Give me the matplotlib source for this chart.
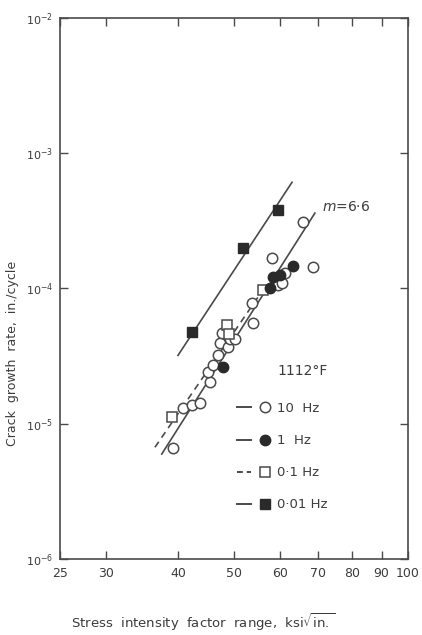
import matplotlib
matplotlib.use('Agg')
import matplotlib.pyplot as plt
from matplotlib.lines import Line2D
from matplotlib.legend_handler import HandlerTuple
from matplotlib.ticker import NullLocator

# Data (delta K in ksi sqrt(in.), da/dN in in./cycle)
dk_10hz = [39.2, 40.8, 42.3, 43.7, 45.5, 45.1, 46.0, 46.9, 47.3, 47.7, 48.8, 49.2,
           50.2, 53.9, 53.7, 58.2, 59.6, 60.5, 61.3, 65.8, 68.5]
rate_10hz = [6.6e-6, 1.31e-5, 1.38e-5, 1.42e-5, 2.05e-5, 2.41e-5, 2.72e-5, 3.2e-5,
             3.95e-5, 4.7e-5, 3.7e-5, 4.2e-5, 4.2e-5, 5.6e-5, 7.8e-5, 1.68e-4,
             1.06e-4, 1.1e-4, 1.3e-4, 3.1e-4, 1.44e-4]

dk_1hz = [47.9, 57.8, 58.5, 60.0, 63.2]
rate_1hz = [2.63e-5, 1.0e-4, 1.22e-4, 1.25e-4, 1.47e-4]

dk_01hz = [39.1, 48.6, 49.0, 56.1]
rate_01hz = [1.12e-5, 5.4e-5, 4.6e-5, 9.75e-5]

dk_001hz = [42.3, 51.8, 59.6]
rate_001hz = [4.77e-5, 2.0e-4, 3.8e-4]

# fitted lines (end points)
fit_main_x = [37.5, 69.0]
fit_main_y = [5.97e-6, 3.61e-4]
fit_01_x = [36.5, 56.1]
fit_01_y = [6.7e-6, 9.75e-5]
fit_001_x = [40.0, 63.0]
fit_001_y = [3.2e-5, 6.1e-4]

x_ticks = [25, 30, 40, 50, 60, 70, 80, 90, 100]
y_ticks = [1e-6, 1e-5, 1e-4, 1e-3, 1e-2]
y_labels = [r'$10^{-6}$', r'$10^{-5}$', r'$10^{-4}$', r'$10^{-3}$', r'$10^{-2}$']

ink = '#3c3c3c'
linec = '#4a4a4a'

fig = plt.figure(figsize=(4.22, 6.35), dpi=100)
ax = fig.add_axes([0.142, 0.1197, 0.825, 0.852])
ax.set_xscale('log')
ax.set_yscale('log')
ax.set_xlim(25, 100)
ax.set_ylim(1e-6, 1e-2)

ax.plot(fit_001_x, fit_001_y, color=linec, lw=1.2)
ax.plot(fit_main_x, fit_main_y, color=linec, lw=1.2)
ax.plot(fit_01_x, fit_01_y, color=linec, lw=1.2, ls=(0, (4, 3)))

ax.plot(dk_10hz, rate_10hz, 'o', ms=7.5, mfc='white', mec=linec, mew=1.1)
ax.plot(dk_01hz, rate_01hz, 's', ms=6.5, mfc='white', mec=linec, mew=1.1)
ax.plot(dk_1hz, rate_1hz, 'o', ms=7.5, mfc='#2a2a2a', mec='#2a2a2a', mew=1.0)
ax.plot(dk_001hz, rate_001hz, 's', ms=6.5, mfc='#2a2a2a', mec='#2a2a2a', mew=1.0)

ax.text(71, 4.0e-4, r'$m$=6·6', fontsize=10, color=ink, ha='left', va='center')

# legend
h_solid = Line2D([], [], color=linec, lw=1.4)
h_dash = Line2D([], [], color=linec, lw=1.4, ls=(0, (3, 2)))
m_open = Line2D([], [], ls='none', marker='o', ms=7.5, mfc='white', mec=linec, mew=1.1)
m_fill = Line2D([], [], ls='none', marker='o', ms=7.5, mfc='#2a2a2a', mec='#2a2a2a')
s_open = Line2D([], [], ls='none', marker='s', ms=6.5, mfc='white', mec=linec, mew=1.1)
s_fill = Line2D([], [], ls='none', marker='s', ms=6.5, mfc='#2a2a2a', mec='#2a2a2a')
leg = ax.legend([(h_solid, m_open), (h_solid, m_fill), (h_dash, s_open), (h_solid, s_fill)],
                ['10  Hz', '1  Hz', '0·1 Hz', '0·01 Hz'],
                handler_map={tuple: HandlerTuple(ndivide=None, pad=0.5)},
                loc='upper left', bbox_to_anchor=(0.51, 0.29), frameon=False,
                fontsize=9.5, labelspacing=1.45, handlelength=2.6, handletextpad=0.4,
                borderpad=0, borderaxespad=0)
for t in leg.get_texts():
    t.set_color(ink)
ax.text(0.625, 0.347, '1112°F', transform=ax.transAxes, fontsize=10, color=ink,
        ha='left', va='center')

ax.set_xticks(x_ticks)
ax.set_xticklabels([str(v) for v in x_ticks])
ax.set_yticks(y_ticks)
ax.set_yticklabels(y_labels)
ax.xaxis.set_minor_locator(NullLocator())
ax.yaxis.set_minor_locator(NullLocator())
ax.tick_params(direction='in', length=6, width=1.0, color=linec, top=True, right=True,
               labelsize=9, labelcolor=ink, pad=6)
ax.tick_params(axis='y', labelsize=8, pad=5)
for s in ax.spines.values():
    s.set_color(linec)
    s.set_linewidth(1.2)

ax.set_ylabel('Crack  growth  rate,  in./cycle', fontsize=9, color=ink)
ax.yaxis.set_label_coords(-0.118, 0.38)
fig.text(0.48, 1 - 622 / 635, r'Stress  intensity  factor  range,  ksi$\sqrt{\mathrm{in.}}$',
         fontsize=9.5, color=ink, ha='center', va='center')

fig.savefig('out.png', dpi=100)
